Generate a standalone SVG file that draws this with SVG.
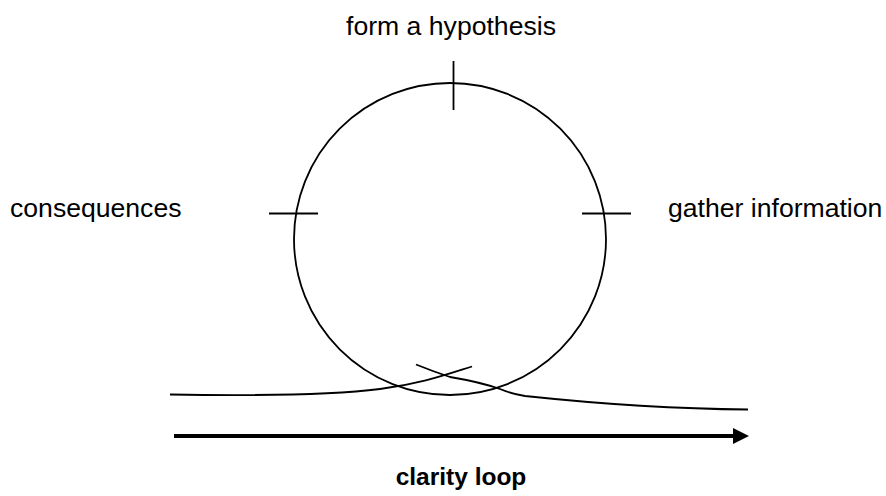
<svg xmlns="http://www.w3.org/2000/svg" width="886" height="496" viewBox="0 0 886 496">
<style>
.l{font-family:"Liberation Sans",Arial,sans-serif;font-size:26.6px;fill:#000}
.b{font-family:"Liberation Sans",Arial,sans-serif;font-size:24.5px;font-weight:bold;fill:#000}
.s{fill:none;stroke:#000;stroke-width:1.8}
</style>
<defs>
<marker id="ah" markerWidth="4" markerHeight="4" refX="0" refY="2" orient="auto" markerUnits="strokeWidth"><path d="M0,0 L4,2 L0,4 Z" fill="#000"/></marker>
</defs>
<rect width="886" height="496" fill="#fff"/>
<g id="loop">
<circle class="s" cx="450" cy="239" r="156"/>
</g>
<g id="form-hypothesis">
<line class="s" x1="453.5" y1="61" x2="453.5" y2="110"/>
<text class="l" x="451" y="35" text-anchor="middle">form a hypothesis</text>
</g>
<g id="consequences">
<line class="s" x1="269" y1="213.5" x2="318" y2="213.5"/>
<text class="l" x="10" y="217">consequences</text>
</g>
<g id="gather-information">
<line class="s" x1="582" y1="213.5" x2="631" y2="213.5"/>
<text class="l" x="668" y="217">gather information</text>
</g>
<g id="connectors">
<path class="s" d="M170,394.5 C260,396 340,394 380,389 C420,384 445,375 472,366.5"/>
<path class="s" d="M416,364.5 Q432,371 450,377 Q480,382 500,389 Q512,394 525,396 C600,404 680,409 748,409.5"/>
<line x1="174" y1="436" x2="733" y2="436" stroke="#000" stroke-width="4" marker-end="url(#ah)"/>
</g>
<g id="clarity-loop">
<text class="b" x="461" y="485" text-anchor="middle">clarity loop</text>
</g>
</svg>
